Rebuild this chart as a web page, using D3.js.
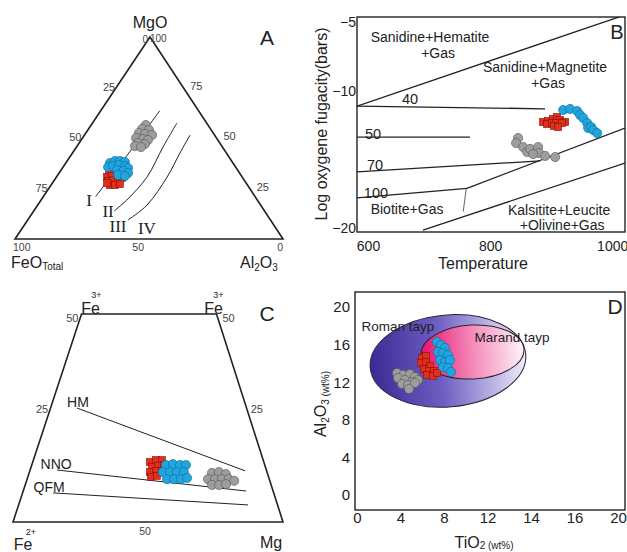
<!DOCTYPE html>
<html>
<head>
<meta charset="utf-8">
<script src="https://cdn.jsdelivr.net/npm/d3@7"></script>
<style>
  body { margin: 0; background: #fff; }
  svg { display: block; font-family: "Liberation Sans", Arial, sans-serif; }
</style>
</head>
<body>
<script>
// ---------- panel A : [MgO, FeOt, Al2O3] wt% ----------
const aGray = [[56.4,23.2,20.4],[54.5,25.5,20],[54,23.2,22.8],[52.5,27.7,19.8],[52,25.7,22.3],[51.5,23.3,25.2],
  [50,30,20],[49.5,27.7,22.8],[49,26.1,24.9],[47.5,30.6,21.9],[47,28.2,24.8],[46,32.4,21.6],[45.5,30.4,24.1]];
const aRed = [[33.2,48.4,18.4],[30.7,50.4,18.9],[31.2,48.3,20.5],[31.7,46.2,22.1],[28.7,51.1,20.2],[29.2,48.9,21.9],
  [29.7,46.8,23.5],[30.2,45.1,24.7],[26.7,51.3,22],[26.7,49.5,23.8],[27.2,47.4,25.4],[27.7,51.9,20.4]];
const aBlue = [[37.6,45.9,16.5],[38.6,43.5,17.9],[38.6,41.7,19.7],[38.1,40.1,21.8],[35.6,47.6,16.8],[36.1,45.5,18.4],
  [36.6,43.1,20.3],[36.1,41.1,22.8],[35.1,40.4,24.5],[34.2,44.9,20.9],[33.7,42.9,23.4],[32.7,41.6,25.7],[31.7,45.8,22.5],[31.2,43.5,25.3]];
const aLineI = [[21,59.5,19.5],[42,37,21],[63.5,14.5,22]];
const aLineII = [[13.9,56.1,30],[19.3,48.7,32],[30.7,35.5,33.8],[45.5,22.2,32.3],[57.4,11.1,31.5]];
const aLineIII = [[9.4,53.2,37.4],[16.8,42.4,40.8],[30.7,28,41.3],[42.6,17.3,40.1],[51.5,9.1,39.4]];
const aCurveNames = ['I', 'II', 'III', 'IV'];
const aCurveNameAt = [[19.3,62.8,17.9],[13.4,58.6,28],[6.4,58.4,35.2],[5.4,48.1,46.5]];
const aTicksLeft = [25, 50, 75];   // FeOt along left edge
const aTicksRight = [75, 50, 25];  // MgO along right edge
const aTicksBottom = [100, 50, 0]; // FeOt along base

// ---------- panel B : [T, log fO2] ----------
const bSH = [[582,-11.1],[1021,-4.45]];
const b40 = [[582,-11.1],[890,-11.3]];
const b50 = [[582,-13.36],[767,-13.36]];
const b70 = [[582,-15.9],[882,-15.1]];
const b100 = [[582,-17.8],[762,-17.1]];
const bBio = [[762,-17.1],[1021,-12.7]];
const bStep = [[761,-17.1],[756,-18.8]];
const bLow = [[690,-20.15],[1021,-15.26]];
const bBlue = [[919.7,-11.39],[931,-11.31],[942.6,-11.46],[947.5,-11.75],[952.5,-11.97],[959,-12.34],
  [960.7,-12.70],[965.6,-12.63],[968.9,-12.85],[975.4,-13.07]];
const bRed = [[886.9,-12.26],[895.1,-12.19],[903.3,-12.04],[909.8,-11.90],[914.8,-12.12],[923,-12.26],
  [893.4,-12.41],[901.6,-12.34],[908.2,-12.34],[918,-12.34],[904.9,-12.55],[911.5,-12.63]];
const bGray = [[845.9,-13.43],[842.6,-13.80],[854.1,-14.09],[860.7,-14.45],[865.6,-14.23],[878.7,-14.09],
  [880.3,-14.53],[890.2,-14.74],[906.6,-14.82],[870.5,-14.60]];
const bTicksX = [600, 800, 1000];
const bTicksY = [-5, -10, -20];

// ---------- panel C : [Fe3+, Fe2+, Mg] % ----------
const cHM = [[27.4,62.8,9.8],[12.3,8,79.7]];
const cNNO = [[12.5,77.5,10],[7.45,10.05,82.5]];
const cQFM = [[7,81.7,11.3],[4.1,10.9,85]];
const cRed = [[14.4,42.2,43.4],[14.9,39.7,45.4],[14.9,37.5,47.6],[13.2,42,44.8],[13.5,39.6,46.9],[13.7,37.3,49],
  [12,43.4,44.6],[12.3,41,46.7],[12.3,38.7,49],[10.8,43.6,45.6],[11.1,41.2,47.7]];
const cBlue = [[13.7,36.6,49.7],[13.9,33.9,52.2],[13.7,31.4,54.9],[13.7,29.2,57.1],[12,38.6,49.4],[12,36,52],
  [12,33.4,54.6],[12,30.8,57.2],[10.3,37.9,51.8],[10.3,35.3,54.4],[10.3,32.7,57],[10.6,30.3,59.1]];
const cGray = [[11.8,20.5,67.7],[12,17.8,70.2],[11.5,15.5,73],[10.3,22.7,67],[10.3,20.1,69.6],[10.3,17.6,72.1],
  [10.3,15,74.7],[9.9,13.2,76.9],[8.9,21.9,69.2],[8.9,19.3,71.8],[9.1,16.6,74.3]];

// ---------- panel D : [TiO2, Al2O3] wt% ----------
const dTickLabels = ['0', '4', '8', '12', '14', '16', '20'];
const dTicksY = [0, 4, 8, 12, 16, 20];
const dRoman = {cx: 6.97, cy: 14.26, rx: 5.98, ry: 4.89, rot: -5};
const dMarand = {cx: 8.85, cy: 15.21, rx: 3.95, ry: 2.87, rot: -3};
const dGray = [[3.07,12.98],[3.52,12.77],[4.06,12.87],[4.44,12.55],[3.14,12.45],[3.68,12.23],
  [4.21,12.02],[4.67,12.23],[3.45,11.81],[3.91,11.70],[4.44,11.91],[3.98,11.28]];
const dRed = [[4.98,14.57],[5.29,14.79],[4.90,14.04],[5.29,14.15],[5.59,13.72],[5.13,13.40],
  [5.52,13.19],[5.90,13.19],[5.36,12.77],[5.82,12.66],[6.13,12.98]];
const dBlue = [[6.13,16.28],[6.44,15.96],[6.74,15.64],[6.21,15.21],[6.59,15.11],[6.97,14.89],
  [6.36,14.36],[6.74,14.15],[7.13,14.36],[6.59,13.62],[6.97,13.51],[7.20,13.09]];

const W = 627, H = 552;
const INK = '#222';
const svg = d3.select('body').append('svg').attr('width', W).attr('height', H);

const styles = {
  gray: {fill: '#9d9d9d', stroke: '#555'},
  red: {fill: '#e0301c', stroke: '#8c0f08'},
  blue: {fill: '#20a5df', stroke: '#0d6a96'}
};

function ternary(top, left, right) {
  return p => {
    const s = p[0] + p[1] + p[2];
    const a = p[0] / s, b = p[1] / s, c = p[2] / s;
    return [a * top[0] + b * left[0] + c * right[0], a * top[1] + b * left[1] + c * right[1]];
  };
}

function dots(g, pts, kind) {
  const st = styles[kind];
  if (kind === 'red') {
    g.selectAll(null).data(pts).enter().append('rect')
      .attr('x', d => d[0] - 3.5).attr('y', d => d[1] - 3.5)
      .attr('width', 7).attr('height', 7)
      .attr('fill', st.fill).attr('stroke', st.stroke).attr('stroke-width', 0.6);
  } else {
    g.selectAll(null).data(pts).enter().append('circle')
      .attr('cx', d => d[0]).attr('cy', d => d[1]).attr('r', 4.6)
      .attr('fill', st.fill).attr('stroke', st.stroke).attr('stroke-width', 0.6);
  }
}

function label(g, x, y, txt, size, anchor) {
  return g.append('text').attr('x', x).attr('y', y).attr('font-size', size)
    .attr('text-anchor', anchor || 'middle').attr('dominant-baseline', 'central')
    .attr('fill', INK).text(txt);
}

const line = d3.line();
const smooth = d3.line().curve(d3.curveCatmullRom);

// ================= A =================
const pA = ternary([150, 37], [15, 239], [283, 239]);
const gA = svg.append('g');
gA.append('path').attr('d', line([pA([100,0,0]), pA([0,100,0]), pA([0,0,100])]) + 'Z')
  .attr('fill', 'none').attr('stroke', INK).attr('stroke-width', 1.6).attr('stroke-linejoin', 'miter');
[aLineI, aLineII, aLineIII].forEach(c => {
  gA.append('path').attr('d', smooth(c.map(pA))).attr('fill', 'none').attr('stroke', INK).attr('stroke-width', 1);
});
aCurveNames.forEach((n, i) => {
  const p = pA(aCurveNameAt[i]);
  label(gA, p[0], p[1], n, 17).attr('font-family', '"Liberation Serif", "Times New Roman", serif');
});
aTicksLeft.forEach(v => {
  const p = pA([100 - v, v, 0]);
  label(gA, p[0] - 1, p[1] - 1, v, 11, 'end').attr('fill', '#444');
});
aTicksRight.forEach(v => {
  const p = pA([v, 0, 100 - v]);
  label(gA, p[0] + 7, p[1] - 2, v, 11, 'start').attr('fill', '#444');
});
aTicksBottom.forEach(v => {
  const p = pA([0, v, 100 - v]);
  const anchor = v === 100 ? 'start' : 'end';
  label(gA, p[0] + (v === 100 ? -2 : v === 50 ? -5 : 0), p[1] + 8, v, 10.5, anchor).attr('fill', '#444');
});
const apexA = pA([100, 0, 0]);
label(gA, apexA[0] - 2, apexA[1] + 2, '0', 10, 'end').attr('fill', '#444');
label(gA, apexA[0] + 0, apexA[1] + 1, '100', 10, 'start').attr('fill', '#444');
label(gA, apexA[0], apexA[1] - 15, 'MgO', 16);
label(gA, 267, 37, 'A', 21);
const feo = gA.append('text').attr('x', 11).attr('y', 268).attr('font-size', 16).attr('fill', INK);
feo.append('tspan').text('FeO');
feo.append('tspan').attr('font-size', 10).attr('dy', 2).text('Total');
const al = gA.append('text').attr('x', 240).attr('y', 268).attr('font-size', 16).attr('fill', INK);
al.append('tspan').text('Al');
al.append('tspan').attr('font-size', 10).attr('dy', 3).text('2');
al.append('tspan').attr('dy', -3).text('O');
al.append('tspan').attr('font-size', 10).attr('dy', 3).text('3');
[[aGray, 'gray'], [aRed, 'red'], [aBlue, 'blue']].forEach(([d, k]) => dots(gA, d.map(pA), k));

// ================= B =================
const xB = d3.scaleLinear().domain([582, 1021]).range([357, 625]);
const yB = d3.scaleLinear().domain([-20.29, -4.6]).range([232, 17]);
const gB = svg.append('g');
gB.append('clipPath').attr('id', 'clipB').append('rect')
  .attr('x', xB(582)).attr('y', yB(-4.6)).attr('width', xB(1021) - xB(582)).attr('height', yB(-20.29) - yB(-4.6));
const lineB = d3.line().x(d => xB(d[0])).y(d => yB(d[1]));
const gBl = gB.append('g').attr('clip-path', 'url(#clipB)');
[bSH, b40, b50, b70, b100, bBio, bLow].forEach(d => {
  gBl.append('path').attr('d', lineB(d)).attr('fill', 'none').attr('stroke', INK).attr('stroke-width', 1.3);
});
gBl.append('path').attr('d', lineB(bStep)).attr('fill', 'none').attr('stroke', INK).attr('stroke-width', 0.7);
gB.append('rect').attr('x', xB(582)).attr('y', yB(-4.6))
  .attr('width', xB(1021) - xB(582)).attr('height', yB(-20.29) - yB(-4.6))
  .attr('fill', 'none').attr('stroke', INK).attr('stroke-width', 1.4);
gB.append('g').attr('transform', `translate(0,${yB(-20.29)})`)
  .call(d3.axisBottom(xB).tickValues(bTicksX).tickFormat(d3.format('d')).tickSize(0).tickPadding(9))
  .call(g => g.select('.domain').remove())
  .call(g => g.selectAll('text').attr('font-size', 14).attr('fill', INK).attr('font-family', null));
gB.append('g').attr('transform', `translate(${xB(582)},0)`)
  .call(d3.axisLeft(yB).tickValues(bTicksY).tickSize(0).tickPadding(1))
  .call(g => g.select('.domain').remove())
  .call(g => g.selectAll('text').attr('font-size', 14).attr('fill', INK).attr('font-family', null));
[['Sanidine+Hematite', 701.6, -6.06], ['+Gas', 714.8, -7.23],
 ['Sanidine+Magnetite', 890, -8.25], ['+Gas', 895, -9.42],
 ['Biotite+Gas', 664, -18.6],
 ['Kalsitite+Leucite', 913, -18.7], ['+Olivine+Gas', 918, -19.75]].forEach(t => {
  label(gB, xB(t[1]), yB(t[2]), t[0], 14);
});
[['40', 668.9, -10.58], ['50', 608.2, -13.14], ['70', 611.5, -15.4], ['100', 613, -17.45]].forEach(t => {
  label(gB, xB(t[1]), yB(t[2]), t[0], 14.5);
});
label(gB, 617, 32, 'B', 20);
gB.append('text').attr('transform', 'translate(321,124) rotate(-90)')
  .attr('text-anchor', 'middle').attr('dominant-baseline', 'central')
  .attr('font-size', 16).attr('fill', INK).text('Log oxygene fugacity(bars)');
label(gB, 483, 263, 'Temperature', 16);
[[bGray, 'gray'], [bRed, 'red'], [bBlue, 'blue']].forEach(([d, k]) => dots(gB, d.map(p => [xB(p[0]), yB(p[1])]), k));

// ================= C =================
const pC = ternary([150, 106], [13, 522], [283, 522]);
const gC = svg.append('g');
const trap = [[50,50,0],[50,0,50],[0,0,100],[0,100,0]].map(pC);
gC.append('path').attr('d', line(trap) + 'Z').attr('fill', 'none').attr('stroke', INK).attr('stroke-width', 1.6);
[cHM, cNNO, cQFM].forEach(c => {
  gC.append('path').attr('d', line(c.map(pC))).attr('fill', 'none').attr('stroke', INK).attr('stroke-width', 1);
});
[['HM', cHM], ['NNO', cNNO], ['QFM', cQFM]].forEach(([n, c], i) => {
  const p = pC(c[0]);
  label(gC, p[0] + [1, -1, -4][i], p[1] - 6, n, 14);
});
const tl = trap[0], tr = trap[1], br = trap[2], bl = trap[3];
label(gC, tl[0] - 3, tl[1] + 4, '50', 11, 'end').attr('fill', '#444');
label(gC, tr[0] + 6, tr[1] + 4, '50', 11, 'start').attr('fill', '#444');
const cL25 = pC([25, 75, 0]), cR25 = pC([25, 0, 75]), cB50 = pC([0, 50, 50]);
label(gC, cL25[0] + 1, cL25[1] - 9, '25', 11, 'end').attr('fill', '#444');
label(gC, cR25[0] + 1, cR25[1] - 9, '25', 11, 'start').attr('fill', '#444');
label(gC, cB50[0] - 3, cB50[1] + 9, '50', 10.5).attr('fill', '#444');
label(gC, tl[0] + 9, tl[1] - 6, 'Fe', 16);
label(gC, tl[0] + 15, tl[1] - 19, '3+', 9);
label(gC, tr[0] - 3, tr[1] - 6, 'Fe', 16);
label(gC, tr[0] + 2, tr[1] - 19, '3+', 9);
label(gC, bl[0] + 10, bl[1] + 22, 'Fe', 16);
label(gC, bl[0] + 18, bl[1] + 10, '2+', 9);
label(gC, br[0] - 12, br[1] + 20, 'Mg', 16);
label(gC, 267, 313, 'C', 21);
[[cRed, 'red'], [cBlue, 'blue'], [cGray, 'gray']].forEach(([d, k]) => dots(gC, d.map(pC), k));

// ================= D =================
const xD = d3.scaleLinear().domain([0, 20]).range([357, 618]);
const yD = d3.scaleLinear().domain([0, 20]).range([495, 307]);
const gD = svg.append('g');
const defs = svg.append('defs');
const gradR = defs.append('linearGradient').attr('id', 'gRoman');
[[0, '#3a2a94'], [0.45, '#6d5ec2'], [1, '#efeef9']].forEach(s => gradR.append('stop').attr('offset', s[0]).attr('stop-color', s[1]));
const gradM = defs.append('linearGradient').attr('id', 'gMarand');
[[0, '#e6106f'], [0.45, '#f27fb2'], [1, '#fff3f8']].forEach(s => gradM.append('stop').attr('offset', s[0]).attr('stop-color', s[1]));
[[dRoman, 'url(#gRoman)'], [dMarand, 'url(#gMarand)']].forEach(([e, f]) => {
  const cx = xD(e.cx), cy = yD(e.cy);
  gD.append('ellipse').attr('cx', cx).attr('cy', cy)
    .attr('rx', xD(e.rx) - xD(0)).attr('ry', yD(0) - yD(e.ry))
    .attr('transform', `rotate(${e.rot},${cx},${cy})`)
    .attr('fill', f).attr('stroke', '#2a2035').attr('stroke-width', 1);
});
gD.append('rect').attr('x', 355).attr('y', 292).attr('width', 270).attr('height', 218)
  .attr('fill', 'none').attr('stroke', INK).attr('stroke-width', 1.4);
gD.append('g').attr('transform', 'translate(0,510)')
  .call(d3.axisBottom(xD).tickValues(d3.range(dTickLabels.length).map(i => i * 20 / (dTickLabels.length - 1)))
    .tickFormat((d, i) => dTickLabels[i]).tickSize(0).tickPadding(2))
  .call(g => g.select('.domain').remove())
  .call(g => g.selectAll('text').attr('font-size', 15).attr('fill', INK).attr('font-family', null));
gD.append('g').attr('transform', 'translate(355,0)')
  .call(d3.axisLeft(yD).tickValues(dTicksY).tickSize(0).tickPadding(5))
  .call(g => g.select('.domain').remove())
  .call(g => g.selectAll('text').attr('font-size', 15).attr('fill', INK).attr('font-family', null));
label(gD, 398, 326, 'Roman tayp', 13.5);
label(gD, 512, 337, 'Marand tayp', 13.5);
label(gD, 615, 306, 'D', 21);
const yl = gD.append('text').attr('transform', 'translate(320,404) rotate(-90)')
  .attr('text-anchor', 'middle').attr('font-size', 16).attr('fill', INK).attr('dy', 6);
yl.append('tspan').text('Al');
yl.append('tspan').attr('font-size', 10).attr('dy', 3).text('2');
yl.append('tspan').attr('dy', -3).text('O');
yl.append('tspan').attr('font-size', 10).attr('dy', 3).text('3 (wt%)');
const xl = gD.append('text').attr('x', 484).attr('y', 548).attr('text-anchor', 'middle')
  .attr('font-size', 16).attr('fill', INK);
xl.append('tspan').text('TiO');
xl.append('tspan').attr('font-size', 10).attr('dy', 1).text('2 (wt%)');
[[dGray, 'gray'], [dRed, 'red'], [dBlue, 'blue']].forEach(([d, k]) => dots(gD, d.map(p => [xD(p[0]), yD(p[1])]), k));
</script>
</body>
</html>
